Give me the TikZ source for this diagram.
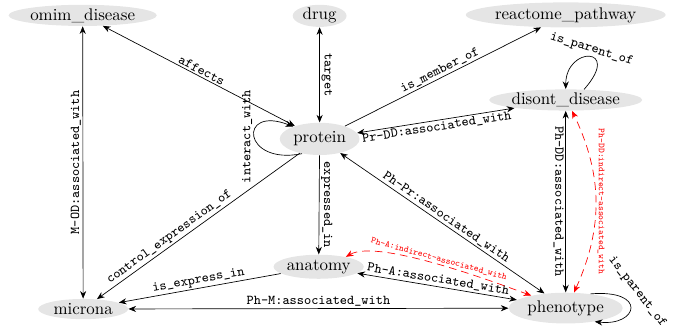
\documentclass[tikz,border=0pt]{standalone}
\usepackage{tikz}
\usetikzlibrary{shapes.geometric, arrows.meta}
\tikzset{ent/.style={ellipse, fill=gray!20, inner sep=0pt},
         lab/.style={font=\footnotesize\ttfamily, inner sep=1pt},
         ind/.style={red, dash pattern=on 4.5pt off 3pt, <->},
         indlab/.style={font=\fontsize{5.4}{6}\selectfont\ttfamily, text=red, inner sep=1pt}}
\begin{document}
\begin{tikzpicture}[>={Stealth[length=4.5pt,width=3.6pt]}]
                 \useasboundingbox (0,0) rectangle (14.21,-6.886);
                 \node[ent, minimum width=3.02cm, minimum height=0.44cm] (omim) at (1.72,-0.32) {omim\_disease};
                 \node[ent, minimum width=1.12cm, minimum height=0.46cm] (drug) at (6.65,-0.33) {drug};
                 \node[ent, minimum width=4.10cm, minimum height=0.52cm] (reactome) at (11.77,-0.31) {reactome\_pathway};
                 \node[ent, minimum width=1.66cm, minimum height=0.67cm] (protein) at (6.65,-2.89) {protein};
                 \node[ent, minimum width=3.14cm, minimum height=0.44cm] (disont) at (11.77,-2.08) {disont\_disease};
                 \node[ent, minimum width=1.87cm, minimum height=0.50cm] (anatomy) at (6.63,-5.55) {anatomy};
                 \node[ent, minimum width=1.87cm, minimum height=0.42cm] (microna) at (1.73,-6.43) {microna};
                 \node[ent, minimum width=2.37cm, minimum height=0.64cm] (phenotype) at (11.77,-6.41) {phenotype};
                 \draw[<->](omim)--node[lab, midway, sloped, above]{affects}(protein);
                 \draw[<->](drug)--node[lab, midway, rotate=-90, anchor=south]{target}(protein);
                 \draw[->](protein)--node[lab, midway, sloped, above]{is\_member\_of}(reactome);
                 \draw[<->](protein)--node[lab, midway, sloped, below]{Pr-DD:associated\_with}(disont);
                 \draw[<->](protein)--node[lab, midway, sloped, above]{Ph-Pr:associated\_with}(phenotype);
                 \draw[->](protein)--node[lab, midway, rotate=-90, anchor=south]{expressed\_in}(anatomy);
                 \draw[->](protein)--node[lab, pos=.62, sloped, above]{control\_expression\_of}(microna);
                 \draw[->](anatomy)--node[lab, midway, sloped, above]{is\_express\_in}(microna);
                 \draw[<->](microna)--node[lab, midway, above]{Ph-M:associated\_with}(phenotype);
                 \draw[<->](anatomy)--node[lab, midway, sloped, above]{Ph-A:associated\_with}(phenotype);
                 \draw[<->](omim)--node[lab, midway, rotate=90, anchor=south]{M-OD:associated\_with}(microna);
                 \draw[<->](disont)--node[lab, midway, rotate=-90, anchor=north]{Ph-DD:associated\_with}(phenotype);
                 \draw[ind](phenotype.62) to[bend right=25] node[indlab, midway, rotate=-90, anchor=south]{Ph-DD:indirect-associated\_with}(disont.-60);
                 \draw[ind](anatomy.20) to[out=30, in=160, looseness=.5] node[indlab, midway, sloped, above]{Ph-A:indirect-associated\_with}(phenotype.160);
                 \draw[->](protein.-140) .. controls +(-1.25,-0.25) and +(-1.15,0.45) .. node[lab, midway, rotate=90, anchor=south]{interact\_with}(protein.155);
                 \draw[->](disont.30) .. controls +(0.8,0.9) and +(0,0.9) .. node[lab, midway, rotate=-17, anchor=south]{is\_parent\_of}(disont.90);
                 \draw[->](phenotype.30) .. controls +(1.2,0.1) and +(0.9,-0.1) .. (phenotype.-25);
                 \node[lab, rotate=-52] (phparent) at ([shift={(1.49,0.34)}]phenotype.center) {is\_parent\_of};
             \end{tikzpicture}
\end{document}
